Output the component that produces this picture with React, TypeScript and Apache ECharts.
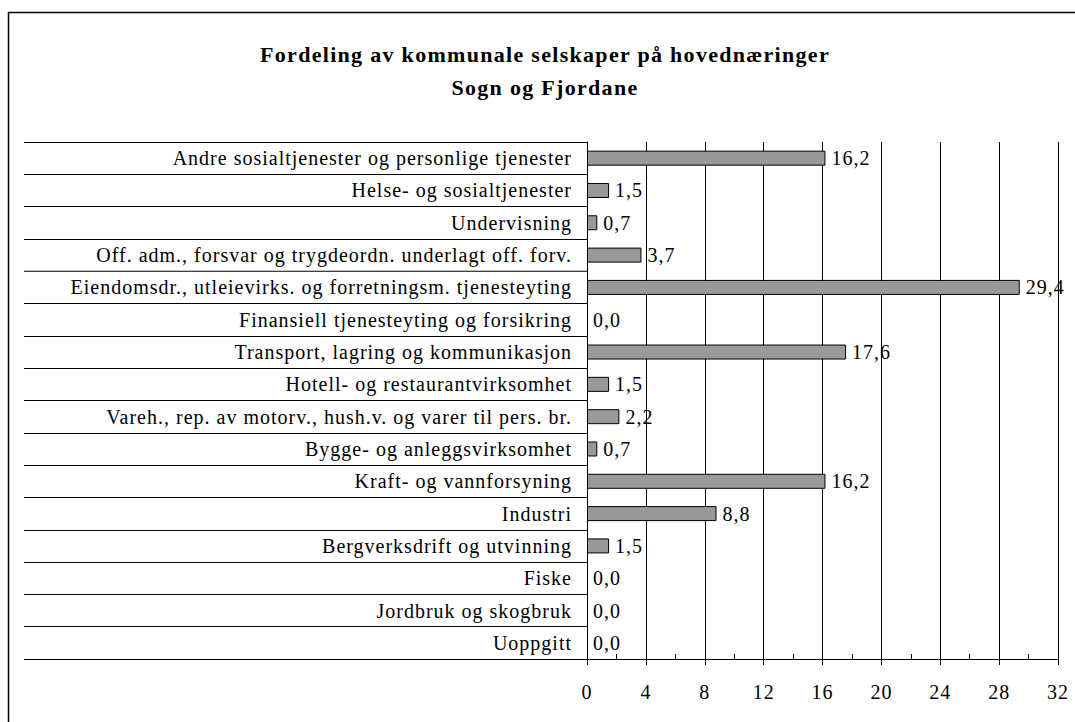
import React, { useEffect, useRef } from "react";
import * as echarts from "echarts";

const categories = [
  "Andre sosialtjenester og personlige tjenester",
  "Helse- og sosialtjenester",
  "Undervisning",
  "Off. adm., forsvar og trygdeordn. underlagt off. forv.",
  "Eiendomsdr., utleievirks. og forretningsm. tjenesteyting",
  "Finansiell tjenesteyting og forsikring",
  "Transport, lagring og kommunikasjon",
  "Hotell- og restaurantvirksomhet",
  "Vareh., rep. av motorv., hush.v. og varer til pers. br.",
  "Bygge- og anleggsvirksomhet",
  "Kraft- og vannforsyning",
  "Industri",
  "Bergverksdrift og utvinning",
  "Fiske",
  "Jordbruk og skogbruk",
  "Uoppgitt",
];
const values = [16.2, 1.5, 0.7, 3.7, 29.4, 0.0, 17.6, 1.5, 2.2, 0.7, 16.2, 8.8, 1.5, 0.0, 0.0, 0.0];
const titleLines = ["Fordeling av kommunale selskaper på hovednæringer", "Sogn og Fjordane"];

const FONT = "Liberation Serif";

export default function App() {
  const ref = useRef<HTMLDivElement>(null);
  useEffect(() => {
    if (!ref.current) return;
    const el = ref.current;
    const chart = echarts.init(el, undefined, { renderer: "svg" });
    const applySpacing = () => {
      el.querySelectorAll("text").forEach((t) => {
        const s = t.textContent || "";
        const isTitle = titleLines.includes(s);
        t.setAttribute("letter-spacing", isTitle ? "1.3" : "1");
      });
    };
    chart.on("finished", applySpacing);
    chart.setOption({
      animation: false,
      backgroundColor: "#fff",
      title: {
        text: titleLines.join("\n"),
        left: 540,
        textAlign: "center",
        top: 33,
        textStyle: { fontFamily: FONT, fontSize: 22, fontWeight: "bold", color: "#000", lineHeight: 33 },
      },
      graphic: [
        {
          type: "rect",
          shape: { x: 8.5, y: 12.5, width: 1200, height: 900 },
          style: { fill: "none", stroke: "#000", lineWidth: 1.5 },
          silent: true,
        },
      ],
      grid: { left: 587, right: 17, top: 142, bottom: 63, containLabel: false },
      xAxis: {
        type: "value",
        min: 0,
        max: 32,
        interval: 4,
        axisLine: { show: true, lineStyle: { color: "#000", width: 1 } },
        axisTick: { show: true, length: 6, lineStyle: { color: "#000" } },
        minorTick: { show: true, splitNumber: 2, length: -5, lineStyle: { color: "#000" } },
        splitLine: { show: true, lineStyle: { color: "#000", width: 1 } },
        axisLabel: { fontFamily: FONT, fontSize: 20, color: "#000", margin: 23 },
      },
      yAxis: {
        type: "category",
        inverse: true,
        data: categories,
        axisLine: { show: true, lineStyle: { color: "#000", width: 1 } },
        axisTick: { show: true, length: 563, lineStyle: { color: "#000", width: 1 } },
        axisLabel: { fontFamily: FONT, fontSize: 20, color: "#000", margin: 15 },
      },
      series: [
        {
          type: "bar",
          data: values.map((v) =>
            v === 0 ? { value: v, itemStyle: { borderWidth: 0, color: "transparent" } } : v
          ),
          barWidth: 15,
          itemStyle: { color: "#999999", borderColor: "#000", borderWidth: 1 },
          label: {
            show: true,
            position: "right",
            distance: 6,
            fontFamily: FONT,
            fontSize: 20,
            color: "#000",
            formatter: (p: any) => Number(p.value).toFixed(1).replace(".", ","),
          },
        },
      ],
    });
    applySpacing();
    const timer = setTimeout(applySpacing, 50);
    return () => {
      clearTimeout(timer);
      chart.dispose();
    };
  }, []);
  return <div ref={ref} style={{ position: "absolute", left: 0, top: 0, width: 1075, height: 722 }} />;
}
